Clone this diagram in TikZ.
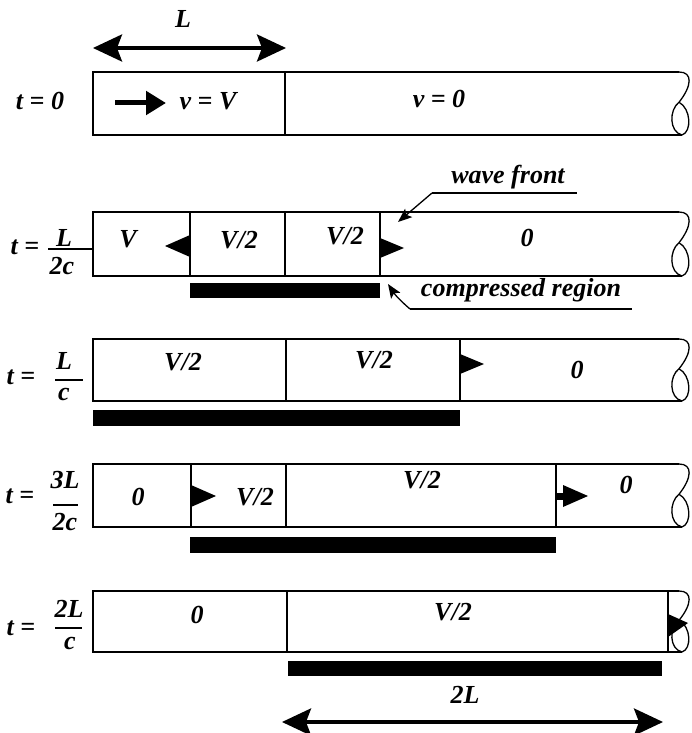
\documentclass[tikz,border=0pt]{standalone}
\usepackage{fontspec}
\setmainfont{Liberation Serif}
\usetikzlibrary{arrows.meta}
\newcommand\pipeshape[2]{%
  \draw[pipe] (679,#1) -- (93,#1) -- (93,#2) -- (682,#2);
  \draw[capl] (679,#1) .. controls (693,{#1}) and (692,{#1+0.22*(#2-#1)}) .. (679,{#1+0.48*(#2-#1)})
     .. controls (669,{#1+0.6*(#2-#1)}) and (669,{#1+0.95*(#2-#1)}) .. (682,#2);
  \draw[capl] (679,{#1+0.48*(#2-#1)}) .. controls (691,{#1+0.58*(#2-#1)}) and (692,{#1+0.95*(#2-#1)}) .. (682,#2);
}
\begin{document}
\begin{tikzpicture}[x=1pt,y=-1pt,
  lbl/.style={font=\fontsize{26}{30}\selectfont\bfseries\itshape, inner sep=0pt, anchor=center},
  pipe/.style={line width=1.8pt},
  capl/.style={line width=1.3pt},
  divl/.style={line width=1.4pt},
  tri/.style={fill=black},
  cbar/.style={fill=black},
  fbar/.style={line width=1.6pt},
  dimarrow/.style={line width=3.5pt, {Stealth[length=29pt,width=27pt,inset=5pt]}-{Stealth[length=29pt,width=27pt,inset=5pt]}},
  callout/.style={line width=1.3pt},
  calloutarrow/.style={line width=1.3pt, -{Stealth[length=14pt,width=11pt,inset=3pt]}}
]
\useasboundingbox (0,0) rectangle (691,733);

% ---- top dimension L
\node[lbl] (Ltop) at (183,19) {L};
\coordinate (La) at (93,48);
\coordinate (Lb) at (286,48);
\draw[dimarrow] (La) -- (Lb);

% ---- row 0 : t = 0
\pipeshape{72}{135}
\draw[divl] (285,72) -- (285,135);
\node[lbl] (t0) at (40,101) {t = 0};
\coordinate (a0s) at (115,103);
\coordinate (a0e) at (166,103);
\draw[line width=5pt, -{Triangle[length=20pt,width=23pt]}] (a0s) -- (a0e);
\node[lbl] (v0a) at (208,101) {v = V};
\node[lbl] (v0b) at (439,99) {v = 0};

% ---- row 1 : t = L/2c
\pipeshape{212}{276}
\draw[divl] (190,212) -- (190,276);
\draw[divl] (285,212) -- (285,276);
\draw[divl] (380,212) -- (380,276);
\node[lbl] (t1) at (25,247) {t =};
\node[lbl] (t1n) at (64,238) {L};
\node[lbl] (t1d) at (62,266) {2c};
\draw[fbar] (48,249) -- (93,249);
\node[lbl] (r1a) at (128,239) {V};
\node[lbl] (r1b) at (239,240) {V/2};
\node[lbl] (r1c) at (345,236) {V/2};
\node[lbl] (r1d) at (527,238) {0};
\fill[tri] (190,235) -- (190,257) -- (165,246) -- cycle;
\fill[tri] (380,238) -- (380,258) -- (404,248) -- cycle;
\fill[cbar] (190,283) rectangle (380,298);
\node[lbl] (wf) at (508,177) {wave front};
\coordinate (wfa) at (432,193);
\coordinate (wfb) at (577,193);
\coordinate (wft) at (398,222);
\draw[callout] (wfa) -- (wfb);
\draw[calloutarrow] (wfa) -- (wft);
\node[lbl] (cr) at (521,290) {compressed region};
\coordinate (cra) at (410,309);
\coordinate (crb) at (632,309);
\coordinate (crt) at (388,284);
\draw[callout] (cra) -- (crb);
\draw[calloutarrow] (cra) to[bend left=8] (crt);

% ---- row 2 : t = L/c
\pipeshape{339}{401}
\draw[divl] (286,339) -- (286,401);
\draw[divl] (460,339) -- (460,401);
\node[lbl] (t2) at (21,377) {t =};
\node[lbl] (t2n) at (64,361) {L};
\node[lbl] (t2d) at (64,394) {c};
\draw[fbar] (55,380) -- (83,380);
\node[lbl] (r2a) at (183,362) {V/2};
\node[lbl] (r2b) at (374,360) {V/2};
\node[lbl] (r2c) at (577,370) {0};
\fill[tri] (460,354) -- (460,374) -- (484,364) -- cycle;
\fill[cbar] (93,410) rectangle (460,426);

% ---- row 3 : t = 3L/2c
\pipeshape{464}{527}
\draw[divl] (191,464) -- (191,527);
\draw[divl] (286,464) -- (286,527);
\draw[divl] (556,464) -- (556,527);
\node[lbl] (t3) at (20,496) {t =};
\node[lbl] (t3n) at (65,480) {3L};
\node[lbl] (t3d) at (65,522) {2c};
\draw[fbar] (53,505) -- (78,505);
\node[lbl] (r3a) at (138,497) {0};
\node[lbl] (r3b) at (255,497) {V/2};
\node[lbl] (r3c) at (422,480) {V/2};
\node[lbl] (r3d) at (626,485) {0};
\fill[tri] (191,485) -- (191,507) -- (216,496) -- cycle;
\fill[tri] (556,493) rectangle (564,500);
\fill[tri] (563,485) -- (563,507) -- (588,496) -- cycle;
\fill[cbar] (190,537) rectangle (556,553);

% ---- row 4 : t = 2L/c
\pipeshape{591}{652}
\draw[divl] (287,591) -- (287,652);
\draw[divl] (668,591) -- (668,652);
\node[lbl] (t4) at (21,628) {t =};
\node[lbl] (t4n) at (69,609) {2L};
\node[lbl] (t4d) at (70,643) {c};
\draw[fbar] (55,628) -- (82,628);
\node[lbl] (r4a) at (197,615) {0};
\node[lbl] (r4b) at (453,612) {V/2};
\fill[tri] (668,614) -- (668,637) -- (688,623) -- cycle;
\fill[cbar] (288,661) rectangle (662,676);

% ---- bottom dimension 2L
\node[lbl] (L2) at (465,695) {2L};
\coordinate (L2a) at (282,722);
\coordinate (L2b) at (663,722);
\draw[dimarrow] (L2a) -- (L2b);
\end{tikzpicture}
\end{document}
